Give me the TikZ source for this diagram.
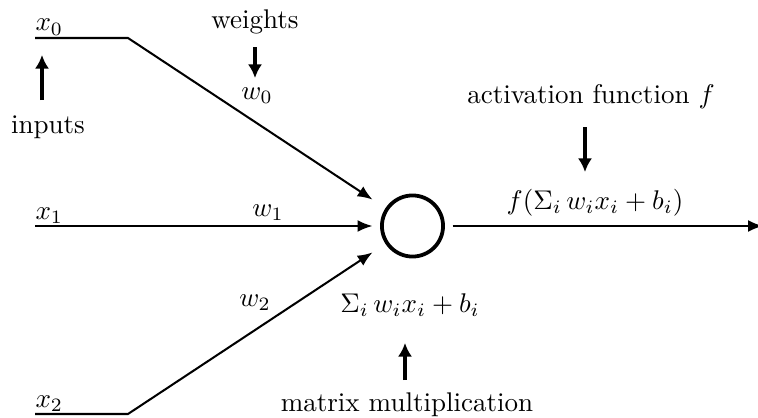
\documentclass[tikz,border=0pt]{standalone}
\usetikzlibrary{arrows.meta}
\begin{document}
\begin{tikzpicture}[x=0.37pt,y=-0.37pt,
  wire/.style={line width=0.75pt},
  warrow/.style={wire,-{Latex[length=5.5pt,width=4.4pt]}},
  heavy/.style={line width=1.5pt,-{Latex[length=5pt,width=5.2pt]}},
  lbl/.style={inner sep=0pt}]
\useasboundingbox (0,0) rectangle (758,418);
% neuron
\node[minimum width=29.2pt,minimum height=29.2pt,inner sep=0pt] (neuron) at (412.5,226) {};
\node[circle,draw,line width=1.4pt,minimum size=22.6pt,inner sep=0pt] (body) at (neuron.center) {};
% wire points
\coordinate (s0) at (35,38);
\coordinate (b0) at (128,38);
\coordinate (s1) at (35,226);
\coordinate (s2) at (35,414);
\coordinate (b2) at (128,414);
\coordinate (out) at (763,226);
\draw[warrow] (s0) -- (b0) -- (neuron);
\draw[warrow] (s1) -- (neuron);
\draw[warrow] (s2) -- (b2) -- (neuron);
\draw[warrow] (neuron) -- (out);
% input labels
\node[lbl,anchor=base west] (x0) at (35,31) {$x_0$};
\node[lbl,anchor=base west] (x1) at (35,219) {$x_1$};
\node[lbl,anchor=base west] (x2) at (35,407) {$x_2$};
% weight labels
\node[lbl] (w0) at (257,96) {$w_0$};
\node[lbl] (w1) at (268,213) {$w_1$};
\node[lbl] (w2) at (255,303) {$w_2$};
% annotations
\node[lbl] (weights) at (255,22) {weights};
\coordinate (wa) at (255,47);
\coordinate (wb) at (255,78);
\draw[heavy] (wa) -- (wb);
\node[lbl] (inputs) at (48,127) {inputs};
\coordinate (ia) at (42,100);
\coordinate (ib) at (42,55);
\draw[heavy] (ia) -- (ib);
\node[lbl] (act) at (591,97) {activation function $f$};
\coordinate (aa) at (585,127);
\coordinate (ab) at (585,172);
\draw[heavy] (aa) -- (ab);
\node[lbl] (fout) at (595,203) {$f(\Sigma_i\,w_i x_i + b_i)$};
\node[lbl] (sum) at (410,305) {$\Sigma_i\,w_i x_i + b_i$};
\node[lbl] (mm) at (407,405) {matrix multiplication};
\coordinate (ma) at (405,380);
\coordinate (mb) at (405,343);
\draw[heavy] (ma) -- (mb);
\end{tikzpicture}
\end{document}
